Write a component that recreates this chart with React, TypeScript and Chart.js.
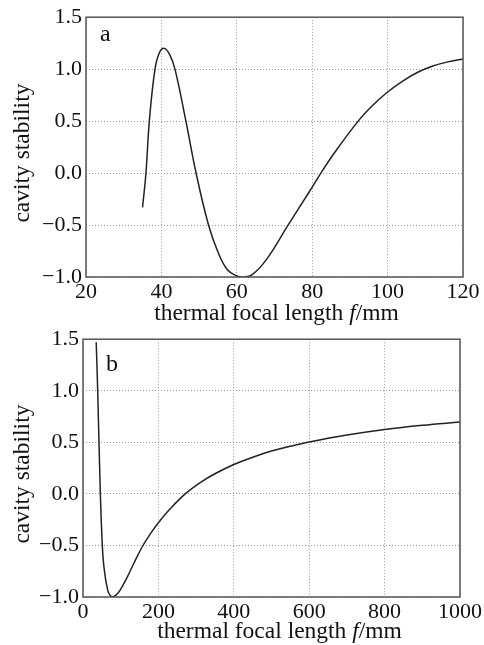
import React, { useEffect, useRef } from "react";
import { Chart, registerables } from "chart.js";

Chart.register(...registerables);

// Panel a: thermal focal length (mm) vs cavity stability
const focalA = [35, 35.9, 36.8, 38.3, 39.5, 40.8, 42.2, 43.6, 46.5, 49.2, 52.5, 55, 57.5, 60, 61.7, 64, 67.9, 73.6, 79.4, 82.3, 86, 92.2, 96, 100, 104, 108, 112, 116, 120];
const stabilityA = [-0.33, 0.0, 0.5, 1.0, 1.16, 1.2, 1.14, 1.0, 0.5, 0.0, -0.5, -0.76, -0.93, -0.99, -1.0, -0.98, -0.83, -0.5, -0.17, 0.0, 0.2, 0.5, 0.65, 0.78, 0.885, 0.97, 1.03, 1.07, 1.097];

// Panel b
const focalB = [35, 39, 46, 51.2, 54.7, 60, 63.6, 68, 77, 88, 99, 117, 134, 156, 180, 200, 230, 271, 311, 350, 400, 450, 500, 550, 600, 700, 800, 900, 1000];
const stabilityB = [1.47, 1.0, 0.0, -0.5, -0.68, -0.83, -0.9, -0.96, -1.0, -0.98, -0.93, -0.81, -0.68, -0.52, -0.38, -0.28, -0.15, 0.0, 0.11, 0.195, 0.285, 0.355, 0.415, 0.462, 0.503, 0.57, 0.624, 0.665, 0.697];

const yTicks = [-1.0, -0.5, 0.0, 0.5, 1.0, 1.5];
const xTicksA = [20, 40, 60, 80, 100, 120];
const xTicksB = [0, 200, 400, 600, 800, 1000];

const xTitleParts = [
  { text: "thermal focal length ", italic: false },
  { text: "f", italic: true },
  { text: "/mm", italic: false },
];
const yTitle = "cavity stability";

const SERIF = "'Liberation Serif', 'DejaVu Serif', serif";
const TEXT = "#111";

type PanelCfg = {
  xs: number[];
  ys: number[];
  xTicks: number[];
  label: string;
  top: number;
  width: number;
  height: number;
  yAxisWidth: number;
  xAxisHeight: number;
  padTop: number;
  padRight: number;
  padBottom: number;
  labelDx: number;
  labelDy: number;
  xTitleBaseline: number;
  xTitleDx: number;
};

function Panel({ cfg }: { cfg: PanelCfg }) {
  const ref = useRef<HTMLCanvasElement | null>(null);
  useEffect(() => {
    if (!ref.current) return;
    const frame = {
      id: "frameAndText",
      afterDraw(chart: any) {
        const { ctx, chartArea } = chart;
        ctx.save();
        ctx.strokeStyle = "#555";
        ctx.lineWidth = 1.5;
        ctx.strokeRect(chartArea.left, chartArea.top, chartArea.right - chartArea.left, chartArea.bottom - chartArea.top);
        ctx.fillStyle = TEXT;
        // panel label
        ctx.font = `24px ${SERIF}`;
        ctx.textBaseline = "alphabetic";
        ctx.textAlign = "left";
        ctx.fillText(cfg.label, chartArea.left + cfg.labelDx, chartArea.top + cfg.labelDy);
        // x title
        const fontN = `23.5px ${SERIF}`;
        const fontI = `italic 23.5px ${SERIF}`;
        let total = 0;
        const widths = xTitleParts.map((p) => {
          ctx.font = p.italic ? fontI : fontN;
          const w = ctx.measureText(p.text).width;
          total += w;
          return w;
        });
        let x = (chartArea.left + chartArea.right) / 2 + cfg.xTitleDx - total / 2;
        xTitleParts.forEach((p, i) => {
          ctx.font = p.italic ? fontI : fontN;
          ctx.fillText(p.text, x, cfg.xTitleBaseline);
          x += widths[i];
        });
        // y title
        ctx.font = fontN;
        ctx.translate(29, (chartArea.top + chartArea.bottom) / 2 + 6);
        ctx.rotate(-Math.PI / 2);
        ctx.textAlign = "center";
        ctx.fillText(yTitle, 0, 0);
        ctx.restore();
      },
    };
    const chart = new Chart(ref.current, {
      type: "line",
      data: {
        datasets: [
          {
            data: cfg.xs.map((x, i) => ({ x, y: cfg.ys[i] })),
            borderColor: "#222",
            borderWidth: 1.5,
            pointRadius: 0,
            fill: false,
            tension: 0.4,
          },
        ],
      },
      options: {
        animation: false,
        responsive: false,
        maintainAspectRatio: false,
        layout: { padding: { top: cfg.padTop, right: cfg.padRight, left: 0, bottom: cfg.padBottom } },
        plugins: { legend: { display: false }, tooltip: { enabled: false }, title: { display: false } },
        scales: {
          x: {
            type: "linear",
            min: cfg.xTicks[0],
            max: cfg.xTicks[cfg.xTicks.length - 1],
            afterBuildTicks: (s: any) => {
              s.ticks = cfg.xTicks.map((v) => ({ value: v }));
            },
            afterFit: (s: any) => {
              s.height = cfg.xAxisHeight;
            },
            ticks: {
              color: TEXT,
              font: { family: SERIF, size: 22 },
              padding: 2,
              maxRotation: 0,
              autoSkip: false,
              callback: (v: any) => String(v),
            },
            grid: { color: "#9a9a9a", lineWidth: 1, drawTicks: false },
            border: { display: false, dash: [1, 2] },
          },
          y: {
            type: "linear",
            min: yTicks[0],
            max: yTicks[yTicks.length - 1],
            afterBuildTicks: (s: any) => {
              s.ticks = yTicks.map((v) => ({ value: v }));
            },
            afterFit: (s: any) => {
              s.width = cfg.yAxisWidth;
            },
            ticks: {
              color: TEXT,
              font: { family: SERIF, size: 22 },
              padding: 4,
              autoSkip: false,
              callback: (v: any) => {
                const n = Number(v);
                const s = Math.abs(n).toFixed(1);
                return n < 0 ? "\u2212" + s : s;
              },
            },
            grid: { color: "#9a9a9a", lineWidth: 1, drawTicks: false },
            border: { display: false, dash: [1, 2] },
          },
        },
      },
      plugins: [frame],
    } as any);
    return () => chart.destroy();
  }, [cfg]);
  return (
    <canvas
      ref={ref}
      width={cfg.width}
      height={cfg.height}
      style={{ position: "absolute", left: 0, top: cfg.top, display: "block", width: cfg.width, height: cfg.height }}
    />
  );
}

const cfgA: PanelCfg = {
  xs: focalA,
  ys: stabilityA,
  xTicks: xTicksA,
  label: "a",
  top: 0,
  width: 484,
  height: 330,
  yAxisWidth: 86,
  xAxisHeight: 45,
  padTop: 15,
  padRight: 21,
  padBottom: 8,
  labelDx: 14,
  labelDy: 23.5,
  xTitleBaseline: 320,
  xTitleDx: 2,
};

const cfgB: PanelCfg = {
  xs: focalB,
  ys: stabilityB,
  xTicks: xTicksB,
  label: "b",
  top: 322,
  width: 484,
  height: 323,
  yAxisWidth: 83,
  xAxisHeight: 48,
  padTop: 13,
  padRight: 24,
  padBottom: 0,
  labelDx: 23,
  labelDy: 31.7,
  xTitleBaseline: 316,
  xTitleDx: 8,
};

export default function App() {
  return (
    <div style={{ position: "absolute", left: 0, top: 0, width: 484, height: 645, background: "#fff" }}>
      <Panel cfg={cfgA} />
      <Panel cfg={cfgB} />
    </div>
  );
}
